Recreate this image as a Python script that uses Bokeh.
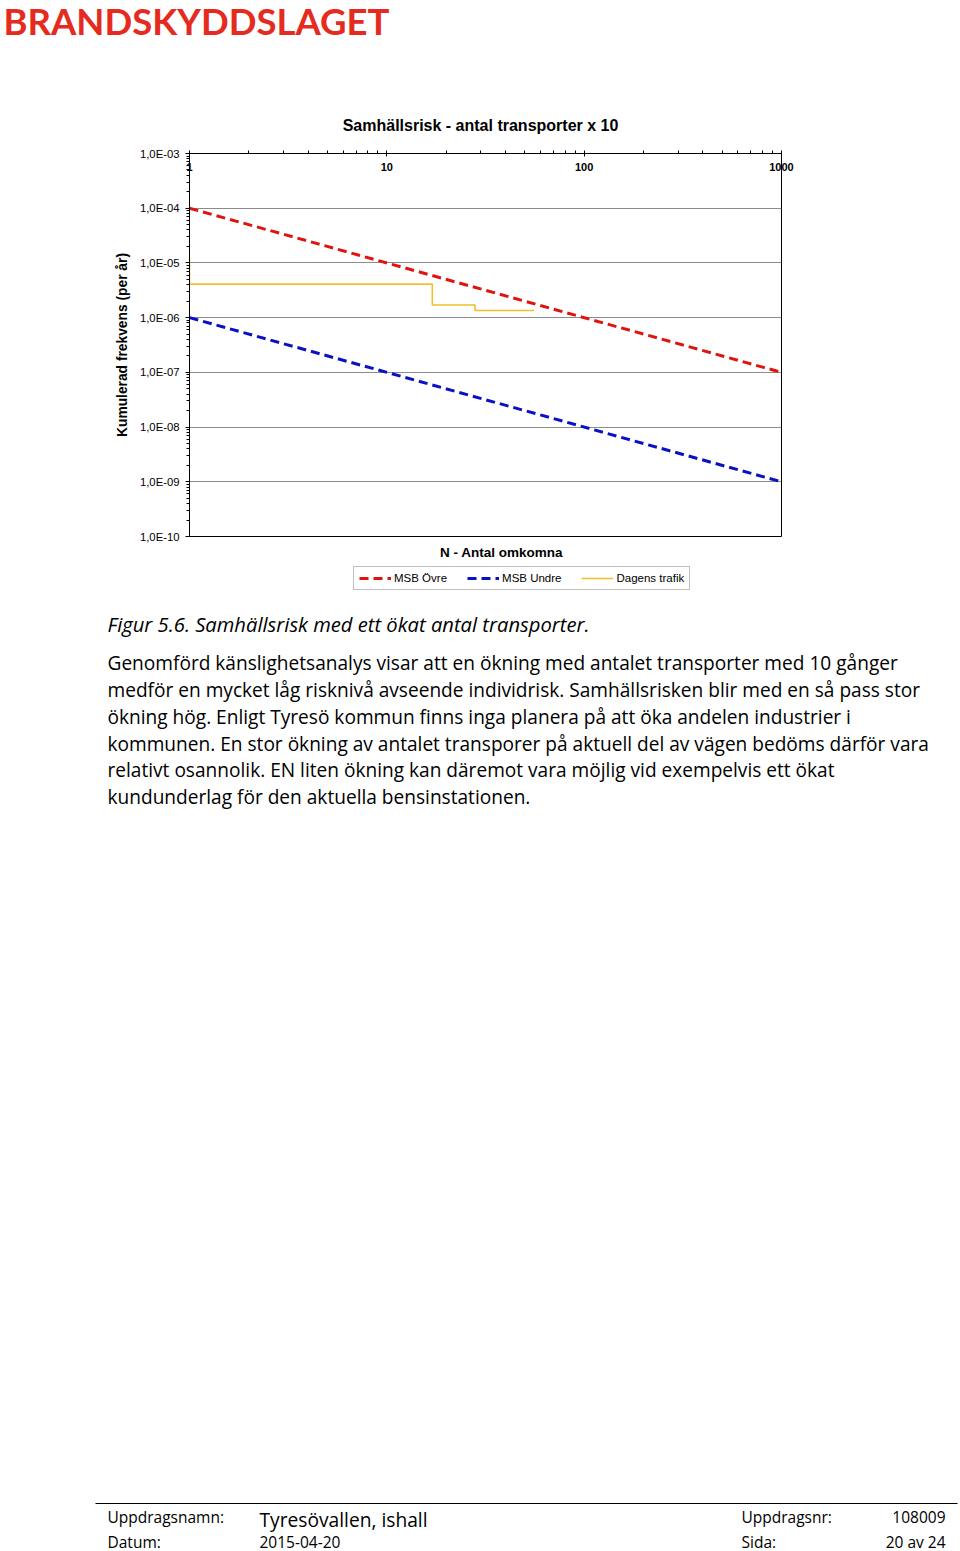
import numpy as np
from bokeh.plotting import figure
from bokeh.layouts import column
from bokeh.models import (Legend, LegendItem, FixedTicker,
                          CustomJSTickFormatter)
from bokeh.core.properties import value
from bokeh.embed import file_html
from bokeh.resources import INLINE

# ---------------- data ----------------
n_msb = [1, 1000]
msb_ovre = [1e-4, 1e-7]
msb_undre = [1e-6, 1e-9]

dagens_n = [1, 1, 17, 28, 56]
dagens_f = [1.25e-5, 4.1e-6, 1.7e-6, 1.35e-6, 1.35e-6]

x_ticks = [1, 10, 100, 1000]
x_tick_labels = ["1", "10", "100", "1000"]
y_ticks = [1e-10, 1e-9, 1e-8, 1e-7, 1e-6, 1e-5, 1e-4, 1e-3]
y_tick_labels = ["1,0E-10", "1,0E-09", "1,0E-08", "1,0E-07",
                 "1,0E-06", "1,0E-05", "1,0E-04", "1,0E-03"]

title_text = "Samhällsrisk - antal transporter x 10"
y_title = "Kumulerad frekvens (per år)"
x_title = "N - Antal omkomna"
series_names = ["MSB Övre", "MSB Undre", "Dagens trafik"]

header_text = "BRANDSKYDDSLAGET"
caption = "Figur 5.6. Samhällsrisk med ett ökat antal transporter."
paragraph = [
    "Genomförd känslighetsanalys visar att en ökning med antalet transporter med 10 gånger",
    "medför en mycket låg risknivå avseende individrisk. Samhällsrisken blir med en så pass stor",
    "ökning hög. Enligt Tyresö kommun finns inga planera på att öka andelen industrier i",
    "kommunen. En stor ökning av antalet transporer på aktuell del av vägen bedöms därför vara",
    "relativt osannolik. EN liten ökning kan däremot vara möjlig vid exempelvis ett ökat",
    "kundunderlag för den aktuella bensinstationen.",
]
footer_left_labels = ["Uppdragsnamn:", "Datum:"]
footer_left_values = ["Tyresövallen, ishall", "2015-04-20"]
footer_right_labels = ["Uppdragsnr:", "Sida:"]
footer_right_values = ["108009", "20 av 24"]

# ---------------- layout constants ----------------
W, H = 960, 1551
TOP_H = 141          # header strip: page y 0..141
CHART_END = 545      # chart strip: page y 141..545
FL, FR, FT, FB = 189, 781, 153, 536
CHART_FONT = "Liberation Sans"
PAGE_FONT = "Open Sans"
HEAD_FONT = "Lato"

COLORS = ["#e0140f", "#0a10c4", "#f0c02c"]
DASH = "9 5"


def text_fig(y0, y1):
    f = figure(width=W, height=y1 - y0, x_range=(0, W), y_range=(y1, y0),
               x_axis_type=None, y_axis_type=None,
               output_backend="svg", toolbar_location=None,
               min_border=0, min_border_left=0, min_border_right=0,
               min_border_top=0, min_border_bottom=0, frame_align=False)
    f.outline_line_color = None
    f.grid.visible = False
    f.background_fill_color = "white"
    f.border_fill_color = "white"
    return f


def put(f, txt, X, Y, size, font=CHART_FONT, style="normal", align="left",
        color="black"):
    f.text(x=[X], y=[Y], text=[txt], text_font=value(font),
           text_font_size=f"{size}px", text_font_style=style,
           text_align=align, text_baseline="middle", text_color=color)


# ---------------- header strip ----------------
top = text_fig(0, TOP_H)
put(top, header_text, 3, 20, 36.5, font=HEAD_FONT, style="bold", color="#e52a1e")
put(top, title_text, 480, 125, 16, style="bold", align="center")

# ---------------- chart ----------------
p = figure(width=W, height=CHART_END - TOP_H, x_axis_type="log", y_axis_type="log",
           x_range=(1, 1000), y_range=(1e-10, 1e-3),
           x_axis_location="above",
           output_backend="svg", toolbar_location=None, frame_align=False,
           min_border_left=FL, min_border_right=W - FR,
           min_border_top=FT - TOP_H, min_border_bottom=CHART_END - FB)
p.background_fill_color = "white"
p.border_fill_color = "white"
p.outline_line_color = "black"
p.outline_line_width = 1
p.outline_line_alpha = 1

fmt_code = """
let best = 0, bd = Infinity;
for (let i = 0; i < tvals.length; i++) {
  const d = Math.abs(Math.log10(tvals[i]) - Math.log10(tick));
  if (d < bd) { bd = d; best = i; }
}
return tlabels[best];
"""

x_minor = [m * 10 ** e for e in range(0, 3) for m in range(2, 10)]
y_minor = [m * 10.0 ** e for e in range(-10, -3) for m in range(2, 10)]

xa = p.xaxis[0]
xa.ticker = FixedTicker(ticks=x_ticks, minor_ticks=x_minor)
xa.formatter = CustomJSTickFormatter(args=dict(tvals=x_ticks, tlabels=x_tick_labels), code=fmt_code)
xa.major_tick_in = 3
xa.major_tick_out = 3
xa.minor_tick_in = 0
xa.minor_tick_out = 3
xa.major_label_standoff = -20
xa.major_label_text_font = CHART_FONT
xa.major_label_text_font_style = "bold"
xa.major_label_text_font_size = "11px"
xa.major_label_text_color = "black"
xa.axis_line_color = "black"
xa.major_tick_line_color = "black"
xa.minor_tick_line_color = "black"

ya = p.yaxis[0]
ya.ticker = FixedTicker(ticks=y_ticks, minor_ticks=y_minor)
ya.formatter = CustomJSTickFormatter(args=dict(tvals=y_ticks, tlabels=y_tick_labels), code=fmt_code)
ya.major_tick_in = 0
ya.major_tick_out = 4
ya.minor_tick_in = 0
ya.minor_tick_out = 3
ya.major_label_standoff = 6
ya.major_label_text_font = CHART_FONT
ya.major_label_text_font_size = "11.3px"
ya.major_label_text_color = "black"
ya.axis_line_color = "black"
ya.major_tick_line_color = "black"
ya.minor_tick_line_color = "black"
ya.axis_label = y_title
ya.axis_label_text_font = CHART_FONT
ya.axis_label_text_font_style = "bold"
ya.axis_label_text_font_size = "13.8px"
ya.axis_label_text_color = "black"
ya.axis_label_standoff = 7

p.xgrid.visible = False
p.ygrid.grid_line_color = "#8c8c8c"
p.ygrid.grid_line_width = 1

p.line(n_msb, msb_ovre, line_color=COLORS[0], line_width=3, line_dash=DASH)
p.line(n_msb, msb_undre, line_color=COLORS[1], line_width=3, line_dash=DASH)
p.step(dagens_n, dagens_f, mode="after", line_color=COLORS[2], line_width=1.6)

# ---------------- body strip (x title, legend, text, footer) ----------------
B0 = CHART_END
bot = text_fig(B0, H)
put(bot, x_title, 501, 552, 13.5, style="bold", align="center")

# legend keys: hidden (NaN) renderers carrying the same line styles as the chart
nan2 = np.array([np.nan, np.nan])
k1 = bot.line(nan2, nan2, line_color=COLORS[0], line_width=3, line_dash=DASH)
k2 = bot.line(nan2, nan2, line_color=COLORS[1], line_width=3, line_dash=DASH)
k3 = bot.line(nan2, nan2, line_color=COLORS[2], line_width=1.6)
legend = Legend(items=[LegendItem(label=series_names[0], renderers=[k1]),
                       LegendItem(label=series_names[1], renderers=[k2]),
                       LegendItem(label=series_names[2], renderers=[k3])],
                location=(353, H - 590), orientation="horizontal",
                border_line_color="#808080", border_line_width=1,
                background_fill_color="white", background_fill_alpha=1,
                label_text_font=CHART_FONT, label_text_font_size="11.5px",
                label_text_color="black",
                glyph_width=32, glyph_height=10, label_standoff=3,
                spacing=20, padding=5, margin=0, label_height=10)
bot.add_layout(legend, "center")

put(bot, caption, 107, 623, 20.2, font=PAGE_FONT, style="italic")
para_y = [662, 689, 716, 743, 769, 796]
for t, yy in zip(paragraph, para_y):
    put(bot, t, 107, yy, 19.1, font=PAGE_FONT)

bot.segment(x0=[95], y0=[1503], x1=[957], y1=[1503], line_color="black", line_width=1)
put(bot, footer_left_labels[0], 107, 1516, 15.5, font=PAGE_FONT)
put(bot, footer_left_values[0], 259, 1519, 19.2, font=PAGE_FONT)
put(bot, footer_right_labels[0], 741, 1516, 15.5, font=PAGE_FONT)
put(bot, footer_right_values[0], 945, 1516, 15.5, font=PAGE_FONT, align="right")
put(bot, footer_left_labels[1], 107, 1541, 15.5, font=PAGE_FONT)
put(bot, footer_left_values[1], 259, 1541, 15.5, font=PAGE_FONT)
put(bot, footer_right_labels[1], 741, 1541, 15.5, font=PAGE_FONT)
put(bot, footer_right_values[1], 945, 1541, 15.5, font=PAGE_FONT, align="right")

page = column(top, p, bot, spacing=0)
open("out.html", "w").write(file_html(page, INLINE))
